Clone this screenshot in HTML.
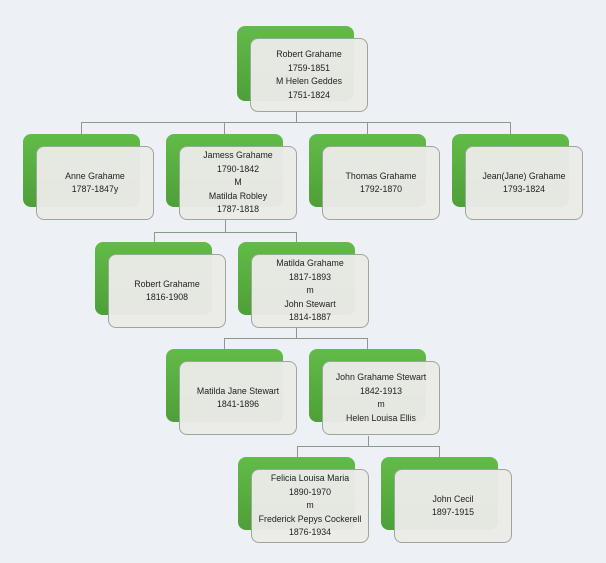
<!DOCTYPE html>
<html><head><meta charset="utf-8"><style>
body{margin:0;width:606px;height:563px;background:#edf0f5;position:relative;overflow:hidden;font-family:"Liberation Sans",sans-serif}
.g{position:absolute;width:117px;height:73px;border-radius:8px;background:linear-gradient(#62bb48,#4e9f38)}
.w{position:absolute;width:116px;height:72px;border-radius:8px;border:1px solid #9aa89a;background:rgba(234,234,230,0.97);display:flex;flex-direction:column;justify-content:center;align-items:center;font-size:8.8px;line-height:13.5px;color:#222;text-align:center}
.l{position:absolute;background:#8a9a8a}
</style></head><body>
<div class="l" style="left:296px;top:112px;width:1px;height:11px"></div>
<div class="l" style="left:81px;top:122px;width:430px;height:1px"></div>
<div class="l" style="left:81px;top:122px;width:1px;height:12px"></div>
<div class="l" style="left:224px;top:122px;width:1px;height:12px"></div>
<div class="l" style="left:367px;top:122px;width:1px;height:12px"></div>
<div class="l" style="left:510px;top:122px;width:1px;height:12px"></div>

<div class="l" style="left:225px;top:220px;width:1px;height:12px"></div>
<div class="l" style="left:154px;top:232px;width:143px;height:1px"></div>
<div class="l" style="left:154px;top:232px;width:1px;height:10px"></div>
<div class="l" style="left:296px;top:232px;width:1px;height:10px"></div>

<div class="l" style="left:296px;top:328px;width:1px;height:10px"></div>
<div class="l" style="left:224px;top:338px;width:144px;height:1px"></div>
<div class="l" style="left:224px;top:338px;width:1px;height:12px"></div>
<div class="l" style="left:367px;top:338px;width:1px;height:11px"></div>

<div class="l" style="left:368px;top:436px;width:1px;height:10px"></div>
<div class="l" style="left:297px;top:446px;width:143px;height:1px"></div>
<div class="l" style="left:297px;top:446px;width:1px;height:11px"></div>
<div class="l" style="left:439px;top:446px;width:1px;height:11px"></div>

<div class="g" style="left:237px;top:26px;height:75px"></div>
<div class="w" style="left:250px;top:38px"><div>Robert Grahame</div><div>1759-1851</div><div>M Helen Geddes</div><div>1751-1824</div></div>

<div class="g" style="left:23px;top:134px"></div>
<div class="w" style="left:36px;top:146px"><div>Anne Grahame</div><div>1787-1847y</div></div>
<div class="g" style="left:166px;top:134px"></div>
<div class="w" style="left:179px;top:146px"><div>Jamess Grahame</div><div>1790-1842</div><div>M</div><div>Matilda Robley</div><div>1787-1818</div></div>
<div class="g" style="left:309px;top:134px"></div>
<div class="w" style="left:322px;top:146px"><div>Thomas Grahame</div><div>1792-1870</div></div>
<div class="g" style="left:452px;top:134px"></div>
<div class="w" style="left:465px;top:146px"><div>Jean(Jane) Grahame</div><div>1793-1824</div></div>

<div class="g" style="left:95px;top:242px"></div>
<div class="w" style="left:108px;top:254px"><div>Robert Grahame</div><div>1816-1908</div></div>
<div class="g" style="left:238px;top:242px"></div>
<div class="w" style="left:251px;top:254px"><div>Matilda Grahame</div><div>1817-1893</div><div>m</div><div>John Stewart</div><div>1814-1887</div></div>

<div class="g" style="left:166px;top:349px"></div>
<div class="w" style="left:179px;top:361px"><div>Matilda Jane Stewart</div><div>1841-1896</div></div>
<div class="g" style="left:309px;top:349px"></div>
<div class="w" style="left:322px;top:361px"><div>John Grahame Stewart</div><div>1842-1913</div><div>m</div><div>Helen Louisa Ellis</div></div>

<div class="g" style="left:238px;top:457px"></div>
<div class="w" style="left:251px;top:469px"><div>Felicia Louisa Maria</div><div>1890-1970</div><div>m</div><div>Frederick Pepys Cockerell</div><div>1876-1934</div></div>
<div class="g" style="left:381px;top:457px"></div>
<div class="w" style="left:394px;top:469px"><div>John Cecil</div><div>1897-1915</div></div>
</body></html>
